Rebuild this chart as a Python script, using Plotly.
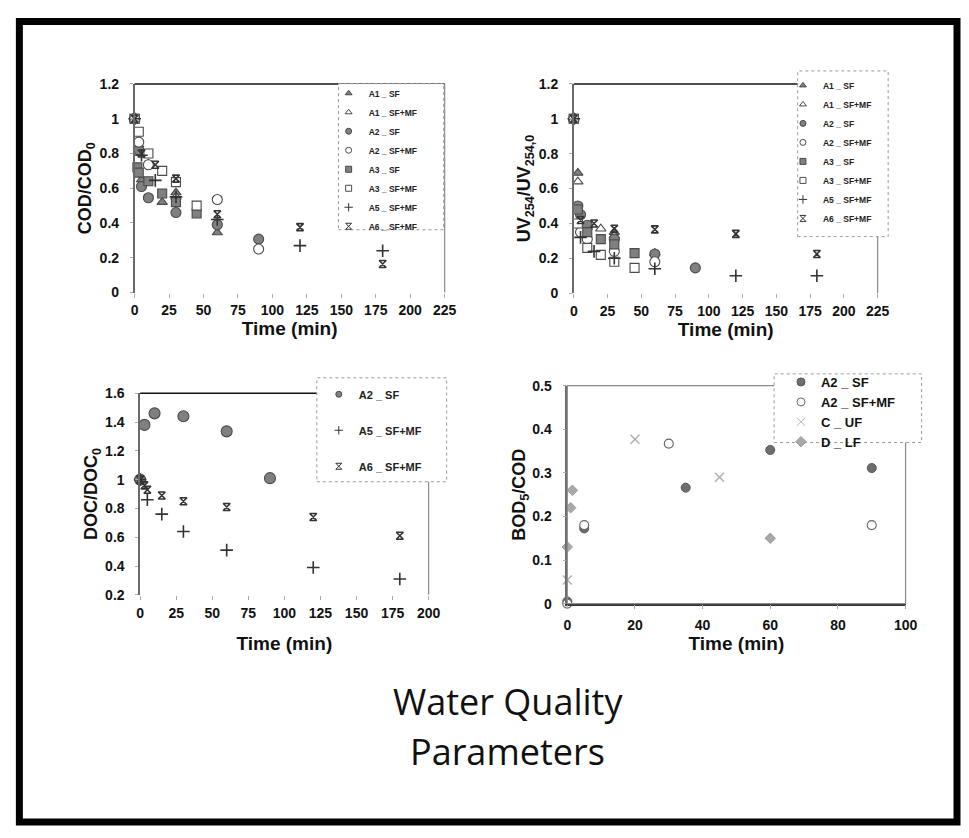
import plotly.graph_objects as go

# The page body keeps an 8px browser margin, so the figure is placed at (8, 8)
# and every reference pixel position is shifted by that margin.
PAGE_W, PAGE_H = 969, 838
OFF = 8
W, H = PAGE_W - OFF, PAGE_H - 2 * OFF

# ---------------- data ----------------
# Panel 1: COD/COD0 vs time (min)
cod_a1_sf_t = [0, 5, 20, 30, 60]
cod_a1_sf_y = [1.0, 0.65, 0.52, 0.575, 0.345]
cod_a1_sfmf_t = [0, 3, 10, 30]
cod_a1_sfmf_y = [1.0, 0.85, 0.74, 0.55]
cod_a2_sf_t = [0, 3, 5, 10, 30, 60, 90]
cod_a2_sf_y = [1.0, 0.82, 0.61, 0.545, 0.46, 0.39, 0.307]
cod_a2_sfmf_t = [0, 3, 10, 60, 90]
cod_a2_sfmf_y = [1.0, 0.865, 0.735, 0.535, 0.25]
cod_a3_sf_t = [0, 2, 3, 10, 20, 30, 45]
cod_a3_sf_y = [1.0, 0.72, 0.69, 0.64, 0.57, 0.52, 0.455]
cod_a3_sfmf_t = [0, 3, 10, 20, 30, 45]
cod_a3_sfmf_y = [1.0, 0.925, 0.80, 0.70, 0.635, 0.50]
cod_a5_sfmf_t = [0, 5, 15, 30, 60, 120, 180]
cod_a5_sfmf_y = [1.0, 0.79, 0.645, 0.55, 0.42, 0.27, 0.24]
cod_a6_sfmf_t = [0, 5, 15, 30, 60, 120, 180]
cod_a6_sfmf_y = [1.0, 0.80, 0.735, 0.655, 0.45, 0.376, 0.164]

# Panel 2: UV254/UV254,0 vs time (min)
uv_a1_sf_t = [0, 3, 10, 30, 60]
uv_a1_sf_y = [1.0, 0.69, 0.38, 0.35, 0.23]
uv_a1_sfmf_t = [0, 3, 20, 30]
uv_a1_sfmf_y = [1.0, 0.64, 0.37, 0.33]
uv_a2_sf_t = [0, 3, 5, 10, 30, 60, 90]
uv_a2_sf_y = [1.0, 0.50, 0.45, 0.39, 0.31, 0.225, 0.145]
uv_a2_sfmf_t = [0, 5, 10, 30, 60]
uv_a2_sfmf_y = [1.0, 0.35, 0.31, 0.24, 0.18]
uv_a3_sf_t = [0, 3, 10, 20, 30, 45]
uv_a3_sf_y = [1.0, 0.48, 0.35, 0.31, 0.28, 0.23]
uv_a3_sfmf_t = [0, 3, 10, 20, 30, 45]
uv_a3_sfmf_y = [1.0, 0.40, 0.26, 0.22, 0.18, 0.145]
uv_a5_sfmf_t = [0, 5, 15, 30, 60, 120, 180]
uv_a5_sfmf_y = [1.0, 0.32, 0.24, 0.20, 0.14, 0.10, 0.10]
uv_a6_sfmf_t = [0, 5, 15, 30, 60, 120, 180]
uv_a6_sfmf_y = [1.0, 0.42, 0.40, 0.37, 0.366, 0.34, 0.225]

# Panel 3: DOC/DOC0 vs time (min)
doc_a2_sf_t = [0, 3, 10, 30, 60, 90]
doc_a2_sf_y = [1.0, 1.38, 1.46, 1.44, 1.335, 1.01]
doc_a5_sfmf_t = [0, 5, 15, 30, 60, 120, 180]
doc_a5_sfmf_y = [1.0, 0.86, 0.76, 0.64, 0.51, 0.39, 0.31]
doc_a6_sfmf_t = [0, 3, 5, 15, 30, 60, 120, 180]
doc_a6_sfmf_y = [1.0, 0.96, 0.93, 0.89, 0.85, 0.81, 0.74, 0.61]

# Panel 4: BOD5/COD vs time (min)
bod_a2_sf_t = [0, 5, 35, 60, 90]
bod_a2_sf_y = [0.005, 0.1725, 0.266, 0.3525, 0.311]
bod_a2_sfmf_t = [0, 5, 30, 90]
bod_a2_sfmf_y = [0.0, 0.18, 0.367, 0.18]
bod_c_uf_t = [0, 20, 45]
bod_c_uf_y = [0.054, 0.377, 0.29]
bod_d_lf_t = [0, 1, 1.5, 60]
bod_d_lf_y = [0.13, 0.22, 0.26, 0.15]

# tick labels
time_ticks_225 = [0, 25, 50, 75, 100, 125, 150, 175, 200, 225]
time_ticks_200 = [0, 25, 50, 75, 100, 125, 150, 175, 200]
time_ticks_100 = [0, 20, 40, 60, 80, 100]
ratio_ticks_12 = [0, 0.2, 0.4, 0.6, 0.8, 1.0, 1.2]
ratio_text_12 = ["0", "0.2", "0.4", "0.6", "0.8", "1", "1.2"]
doc_ticks = [0.2, 0.4, 0.6, 0.8, 1.0, 1.2, 1.4, 1.6]
doc_text = ["0.2", "0.4", "0.6", "0.8", "1", "1.2", "1.4", "1.6"]
bod_ticks = [0, 0.1, 0.2, 0.3, 0.4, 0.5]
bod_text = ["0", "0.1", "0.2", "0.3", "0.4", "0.5"]

# ---------------- helpers ----------------
def fx(px):
    return (px - OFF) / W


def fy(py):
    return 1 - (py - OFF) / H


FONT = "Liberation Sans, Arial, sans-serif"
GRAY = "#808080"
EDGE = "#4a4a4a"
LINE_SYMS = ("cross-thin-open", "hourglass-open", "x-thin-open")


def mk(symbol, filled, size=9):
    if symbol in LINE_SYMS:
        return dict(symbol=symbol, size=size, color="#333333",
                    line=dict(color="#333333", width=1.6))
    return dict(symbol=symbol, size=size,
                color=GRAY if filled else "white",
                line=dict(color=EDGE, width=1.1))


fig = go.Figure()


def add(x, y, name, marker, legmarker, ax, leg, group=None):
    # data points
    fig.add_trace(go.Scatter(
        x=x, y=y, mode="markers", name=name, marker=marker,
        xaxis="x" + ax, yaxis="y" + ax, legend=leg, legendgroup=group,
        cliponaxis=False, showlegend=False))
    # legend entry (small symbol, as in the reference)
    fig.add_trace(go.Scatter(
        x=[None], y=[None], mode="markers", name=name, marker=legmarker,
        xaxis="x" + ax, yaxis="y" + ax, legend=leg, legendgroup=group,
        showlegend=True, hoverinfo="skip"))


def small(m, s):
    d = dict(m)
    d["size"] = s
    if "line" in d:
        d["line"] = dict(d["line"])
        d["line"]["width"] = min(d["line"]["width"], 1.0)
    return d


series1 = [
    (cod_a1_sf_t, cod_a1_sf_y, "A1 _ SF", mk("triangle-up", True, 9)),
    (cod_a1_sfmf_t, cod_a1_sfmf_y, "A1 _ SF+MF", mk("triangle-up", False, 9)),
    (cod_a2_sf_t, cod_a2_sf_y, "A2 _ SF", mk("circle", True, 10)),
    (cod_a2_sfmf_t, cod_a2_sfmf_y, "A2 _ SF+MF", mk("circle", False, 10)),
    (cod_a3_sf_t, cod_a3_sf_y, "A3 _ SF", mk("square", True, 9)),
    (cod_a3_sfmf_t, cod_a3_sfmf_y, "A3 _ SF+MF", mk("square", False, 9)),
    (cod_a5_sfmf_t, cod_a5_sfmf_y, "A5 _ SF+MF", mk("cross-thin-open", False, 9)),
    (cod_a6_sfmf_t, cod_a6_sfmf_y, "A6 _ SF+MF", mk("hourglass-open", False, 7)),
]
for x, y, n, m in series1:
    add(x, y, n, m, small(m, 6), "", "legend")

series2 = [
    (uv_a1_sf_t, uv_a1_sf_y, "A1 _ SF", mk("triangle-up", True, 9)),
    (uv_a1_sfmf_t, uv_a1_sfmf_y, "A1 _ SF+MF", mk("triangle-up", False, 9)),
    (uv_a2_sf_t, uv_a2_sf_y, "A2 _ SF", mk("circle", True, 10)),
    (uv_a2_sfmf_t, uv_a2_sfmf_y, "A2 _ SF+MF", mk("circle", False, 10)),
    (uv_a3_sf_t, uv_a3_sf_y, "A3 _ SF", mk("square", True, 9)),
    (uv_a3_sfmf_t, uv_a3_sfmf_y, "A3 _ SF+MF", mk("square", False, 9)),
    (uv_a5_sfmf_t, uv_a5_sfmf_y, "A5 _ SF+MF", mk("cross-thin-open", False, 9)),
    (uv_a6_sfmf_t, uv_a6_sfmf_y, "A6 _ SF+MF", mk("hourglass-open", False, 7)),
]
for x, y, n, m in series2:
    add(x, y, n, m, small(m, 6), "2", "legend2")

series3 = [
    (doc_a2_sf_t, doc_a2_sf_y, "A2 _ SF", mk("circle", True, 11), "d1"),
    (doc_a5_sfmf_t, doc_a5_sfmf_y, "A5 _ SF+MF", mk("cross-thin-open", False, 9), "d2"),
    (doc_a6_sfmf_t, doc_a6_sfmf_y, "A6 _ SF+MF", mk("hourglass-open", False, 7), "d3"),
]
for x, y, n, m, g in series3:
    add(x, y, n, m, small(m, 6), "3", "legend3", g)

series4 = [
    (bod_a2_sf_t, bod_a2_sf_y, "A2 _ SF",
     dict(symbol="circle", size=9, color="#6e6e6e", line=dict(color="#555555", width=1))),
    (bod_a2_sfmf_t, bod_a2_sfmf_y, "A2 _ SF+MF",
     dict(symbol="circle", size=9, color="white", line=dict(color="#666666", width=1.1))),
    (bod_c_uf_t, bod_c_uf_y, "C _ UF",
     dict(symbol="x-thin-open", size=9, color="#b0b0b0", line=dict(color="#b0b0b0", width=1.5))),
    (bod_d_lf_t, bod_d_lf_y, "D _ LF",
     dict(symbol="diamond", size=8, color="#a8a8a8", line=dict(color="#9a9a9a", width=1))),
]
for x, y, n, m in series4:
    add(x, y, n, m, small(m, 8), "4", "legend4")

tickfont = dict(family=FONT, size=14, color="#111111", weight="bold")
titlefont = dict(family=FONT, size=19, color="#111111", weight="bold")


def xax(dom, rng, ticks, standoff, anchor, line=False, lstand=3):
    return dict(domain=dom, range=rng, tickvals=ticks, ticktext=[str(t) for t in ticks],
                anchor=anchor,
                showgrid=False, zeroline=False, showline=line,
                linecolor="#333333", linewidth=1.5,
                ticks="outside", ticklen=4, tickcolor="#aaaaaa",
                ticklabelstandoff=lstand,
                tickfont=tickfont,
                title=dict(text="Time (min)", font=titlefont, standoff=standoff))


def yax(dom, rng, ticks, text, title, standoff, anchor):
    return dict(domain=dom, range=rng, tickvals=ticks, ticktext=text,
                anchor=anchor,
                showgrid=False, zeroline=False, showline=True,
                linecolor="#6a6a6a", linewidth=1.5,
                ticks="outside", ticklen=3, tickcolor="#aaaaaa",
                ticklabelstandoff=8,
                tickfont=tickfont,
                title=dict(text=title, font=dict(family=FONT, size=18, color="#111111",
                                                 weight="bold"),
                           standoff=standoff))


fig.update_layout(
    width=W, height=H,
    margin=dict(l=0, r=0, t=0, b=0),
    paper_bgcolor="white", plot_bgcolor="white",
    font=dict(family=FONT, color="#111111"),
    xaxis=xax([fx(132.7), fx(448)], [0, 225], time_ticks_225, 4, "y", lstand=1),
    yaxis=yax([fy(290), fy(77.3)], [0, 1.2], ratio_ticks_12, ratio_text_12,
              "COD/COD<sub>0</sub>", 3, "x"),
    xaxis2=xax([fx(579.3), fx(888.3)], [0, 225], time_ticks_225, 4, "y2", lstand=1),
    yaxis2=yax([fy(290.7), fy(77.3)], [0, 1.2], ratio_ticks_12, ratio_text_12,
               "UV<sub>254</sub>/UV<sub>254,0</sub>", 3, "x2"),
    xaxis3=xax([fx(138.3), fx(431.7)], [0, 200], time_ticks_200, 17, "y3", lstand=1),
    yaxis3=yax([fy(598.3), fy(392.7)], [0.2, 1.6], doc_ticks, doc_text,
               "DOC/DOC<sub>0</sub>", 3, "x3"),
    xaxis4=xax([fx(572.7), fx(916.7)], [0, 100], time_ticks_100, 4, "y4",
               line=True, lstand=4),
    yaxis4=yax([fy(607.3), fy(385)], [0, 0.5], bod_ticks, bod_text,
               "BOD<sub>5</sub>/COD", 0, "x4"),
)

leg_common = dict(bgcolor="rgba(0,0,0,0)", borderwidth=0, xanchor="left", yanchor="top",
                  itemclick=False, itemdoubleclick=False)
fig.update_layout(
    legend=dict(x=fx(330), y=fy(72), traceorder="normal",
                font=dict(family=FONT, size=8.5, color="#222", weight="bold"),
                tracegroupgap=0, **leg_common),
    legend2=dict(x=fx(792), y=fy(64), traceorder="normal",
                 font=dict(family=FONT, size=8.5, color="#222", weight="bold"),
                 tracegroupgap=0, **leg_common),
    legend3=dict(x=fx(320), y=fy(379), traceorder="grouped",
                 font=dict(family=FONT, size=11, color="#222", weight="bold"),
                 tracegroupgap=17, **leg_common),
    legend4=dict(x=fx(790), y=fy(366), traceorder="normal",
                 font=dict(family=FONT, size=13, color="#111", weight="bold"),
                 tracegroupgap=0, **leg_common),
)

shapes = []
# top (black) and right (gray) borders of plot areas 1-3
for ax in ["", "2", "3"]:
    shapes.append(dict(type="line", xref=f"x{ax} domain", yref=f"y{ax} domain",
                       x0=0, x1=1, y0=1, y1=1, line=dict(color="#111111", width=1.5), layer="above"))
    shapes.append(dict(type="line", xref=f"x{ax} domain", yref=f"y{ax} domain",
                       x0=1, x1=1, y0=0, y1=1, line=dict(color="#8a8a8a", width=1.2), layer="above"))
# panel 4 frame
shapes.append(dict(type="rect", xref="x4 domain", yref="y4 domain",
                   x0=0, x1=1, y0=0, y1=1, line=dict(color="#8a8a8a", width=1.2), layer="above"))
# legend boxes (dotted, white filled)
for (x0, y0, x1, y1) in [(340, 77, 447, 226), (807, 64, 899, 233),
                         (318, 377, 450, 483), (783, 373, 933, 443)]:
    shapes.append(dict(type="rect", xref="paper", yref="paper",
                       x0=fx(x0), x1=fx(x1), y0=fy(y1), y1=fy(y0),
                       line=dict(color="#999999", width=1, dash="dot"),
                       fillcolor="white", layer="above"))
# outer black frame (right/bottom edges sit on the figure edge)
shapes.append(dict(type="rect", xref="paper", yref="paper",
                   x0=fx(15.5), x1=1.0, y0=0.0, y1=fy(13.5),
                   line=dict(color="black", width=7), layer="above"))
fig.update_layout(shapes=shapes)

TITLE_FONT = dict(family="Open Sans, Noto Sans, sans-serif", size=36, color="#111")
fig.add_annotation(text="Water Quality", xref="paper", yref="paper",
                   x=fx(512), y=fy(707), xanchor="center", yanchor="middle",
                   showarrow=False, font=TITLE_FONT)
fig.add_annotation(text="Parameters", xref="paper", yref="paper",
                   x=fx(512), y=fy(758), xanchor="center", yanchor="middle",
                   showarrow=False, font=TITLE_FONT)

fig.write_html("out.html", config={"displayModeBar": False})
